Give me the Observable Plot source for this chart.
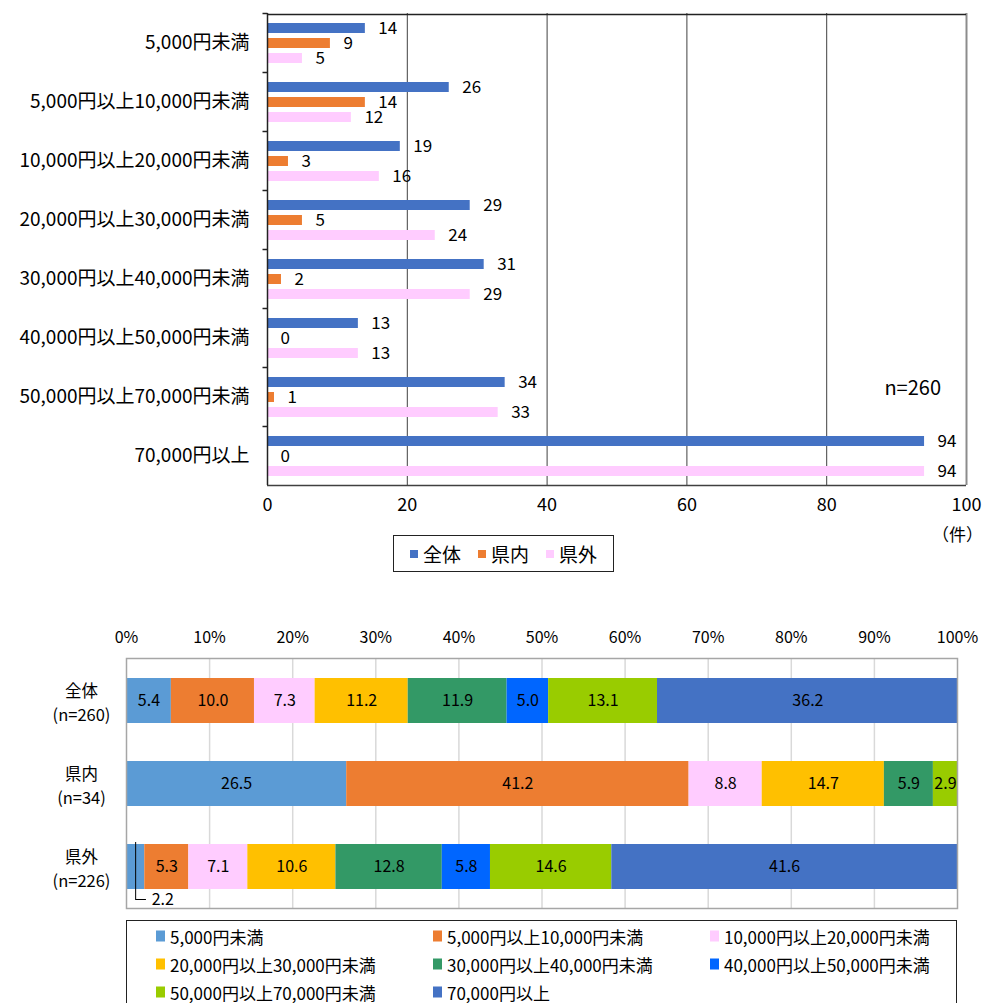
<!DOCTYPE html>
<html><head><meta charset="utf-8">
<script src="https://cdn.jsdelivr.net/npm/d3@7"></script>
<script src="https://cdn.jsdelivr.net/npm/@observablehq/plot@0.6"></script>
<style>
body{margin:0;background:#fff;font-family:'Noto Sans CJK JP','Noto Sans',sans-serif;color:#000;}
#wrap{position:relative;width:983px;height:1003px;overflow:hidden;background:#fff;}
.abs{position:absolute;}
#leg1{left:393px;top:535px;width:221px;height:37px;border:1px solid #222;box-sizing:border-box;display:flex;align-items:center;justify-content:center;gap:17px;font-size:19px;}
#leg1 .it{display:flex;align-items:center;gap:5px;}
#leg1 .mk{width:8px;height:8px;display:inline-block;}
#leg2{left:126px;top:920px;width:831px;height:100px;border:1px solid #222;box-sizing:border-box;font-size:17px;}
#leg2 .it{position:absolute;display:flex;align-items:center;gap:5px;white-space:nowrap;transform:translateY(-50%);}
#leg2 .mk{width:9px;height:11px;display:inline-block;}
#unit{left:932px;top:521px;font-size:17px;white-space:nowrap;}
</style></head><body><div id="wrap"></div>
<script>
// ---- top chart data ----
const categories = ["5,000円未満","5,000円以上10,000円未満","10,000円以上20,000円未満","20,000円以上30,000円未満","30,000円以上40,000円未満","40,000円以上50,000円未満","50,000円以上70,000円未満","70,000円以上"];
const series = ["全体","県内","県外"];
const countAll = [14,26,19,29,31,13,34,94];
const countIn  = [9,14,3,5,2,0,1,0];
const countOut = [5,12,16,24,29,13,33,94];
const seriesColors = ["#4472C4","#ED7D31","#FFCCFF"];
const countTicks = [0,20,40,60,80,100];
const countGrid = [20,40,60,80];
const totalN = "n=260";
const unitLabel = "（件）";

// ---- bottom chart data ----
const rows = ["全体","県内","県外"];
const rowN = ["(n=260)","(n=34)","(n=226)"];
const shareAll = [5.4,10.0,7.3,11.2,11.9,5.0,13.1,36.2];
const shareIn  = [26.5,41.2,8.8,14.7,5.9,0,2.9,0];
const shareOut = [2.2,5.3,7.1,10.6,12.8,5.8,14.6,41.6];
const shareColors = ["#5B9BD5","#ED7D31","#FFCCFF","#FFC000","#339966","#0066FF","#99CC00","#4472C4"];
const pctTicks = [0,10,20,30,40,50,60,70,80,90,100];

const FONT = "'Noto Sans CJK JP','Noto Sans',sans-serif";
const wrap = document.getElementById("wrap");

// ===== Top chart =====
const counts = [countAll, countIn, countOut];
const topData = categories.flatMap((c, i) => series.map((s, j) => ({category: c, series: s, value: counts[j][i]})));
const leftTick = {draw(ctx) { ctx.moveTo(0, 0); ctx.lineTo(-5, 0); }};
const edgeTop = [{s: series[0], c: categories[0]}];
const edgeBottom = [{s: series[2], c: categories[categories.length - 1]}];

const topPlot = Plot.plot({
  width: 983, height: 530,
  marginLeft: 267, marginRight: 17, marginTop: 12, marginBottom: 44,
  style: {fontFamily: FONT, fontSize: "17px", color: "#000", background: "transparent"},
  x: {domain: [0, 100]},
  y: {domain: series, paddingInner: 0.355, paddingOuter: 0.59, axis: null},
  fy: {domain: categories, paddingInner: 0, paddingOuter: 0, label: null},
  color: {domain: series, range: seriesColors},
  marks: [
    Plot.ruleX(countGrid, {stroke: "#404040", strokeWidth: 1}),
    Plot.barX(topData, {x: "value", y: "series", fy: "category", fill: "series"}),
    Plot.text(topData, {x: "value", y: "series", fy: "category", text: d => String(d.value), textAnchor: "start", dx: 13, fill: "#000", fontSize: 17}),
    Plot.ruleX([100], {stroke: "#8c8c8c", strokeWidth: 2}),
    Plot.ruleY(edgeTop, {y: "s", fy: "c", x1: 0, x2: 100, dy: -14.1, stroke: "#222", strokeWidth: 1.5}),
    Plot.ruleY(edgeBottom, {y: "s", fy: "c", x1: 0, x2: 100, dy: 14.1, stroke: "#404040", strokeWidth: 1.5}),
    Plot.ruleX([0], {stroke: "#222", strokeWidth: 1.5}),
    Plot.axisX({anchor: "bottom", ticks: countTicks, tickSize: 0, tickPadding: 13, fill: "#000", label: null, fontSize: 18}),
    Plot.axisFy({anchor: "left", tickSize: 0, tickPadding: 18, label: null, fontSize: 19, fill: "#000"}),
    Plot.dot([0], {frameAnchor: "top-left", symbol: leftTick, stroke: "#222", fill: "none"}),
    Plot.text([{t: totalN, category: categories[6], s: series[0], x: 92.3}], {x: "x", y: "s", fy: "category", text: "t", dy: 6, fontSize: 20, fill: "#000"})
  ]
});
topPlot.classList.add("abs");
topPlot.style.left = "0px"; topPlot.style.top = "0px";
wrap.appendChild(topPlot);

const unit = document.createElement("div");
unit.className = "abs"; unit.id = "unit"; unit.textContent = unitLabel;
wrap.appendChild(unit);

const leg1 = document.createElement("div");
leg1.className = "abs"; leg1.id = "leg1";
series.forEach((s, i) => {
  const it = document.createElement("span"); it.className = "it";
  const mk = document.createElement("span"); mk.className = "mk"; mk.style.background = seriesColors[i];
  const tx = document.createElement("span"); tx.textContent = s;
  it.append(mk, tx); leg1.appendChild(it);
});
wrap.appendChild(leg1);

// ===== Bottom chart =====
const shares = [shareAll, shareIn, shareOut];
const shareData = rows.flatMap((r, i) => categories.map((c, j) => ({row: r, cat: c, value: shares[i][j], idx: j})));
const isLeader = d => d.row === rows[2] && d.idx === 0;
const leadX = shareOut[0] / 2;
const rowLabel = new Map(rows.map((r, i) => [r, r + "\n" + rowN[i]]));

const botPlot = Plot.plot({
  width: 983, height: 300,
  marginLeft: 126, marginRight: 26, marginTop: 48, marginBottom: 2,
  style: {fontFamily: FONT, fontSize: "15px", color: "#000", background: "transparent"},
  x: {domain: [0, 100]},
  y: {domain: rows, paddingInner: 0.46, paddingOuter: 0.227},
  color: {domain: categories, range: shareColors},
  marks: [
    Plot.ruleX(pctTicks.slice(1, -1), {stroke: "#d9d9d9", strokeWidth: 1.5}),
    Plot.barX(shareData, Plot.stackX({x: "value", y: "row", fill: "cat"})),
    Plot.text(shareData, Plot.stackX({x: "value", y: "row", z: "cat", text: d => (d.value > 0 && !isLeader(d)) ? d.value.toFixed(1) : "", fontSize: 16, fill: "#000"})),
    Plot.frame({stroke: "#a6a6a6", strokeWidth: 1.5}),
    Plot.tickX([{x: leadX, row: rows[2]}], {x: "x", y: "row", insetTop: -2, insetBottom: -10, stroke: "#000"}),
    Plot.ruleY([{row: rows[2]}], {y: "row", x1: leadX, x2: leadX + 1.3, dy: 32.5, stroke: "#000"}),
    Plot.text([{row: rows[2], x: leadX, t: shareOut[0].toFixed(1)}], {x: "x", y: "row", text: "t", textAnchor: "start", dx: 16, dy: 33, fontSize: 16, fill: "#000"}),
    Plot.axisX({anchor: "top", ticks: pctTicks, tickFormat: d => d + "%", tickSize: 0, tickPadding: 16, label: null, fontSize: 16, fill: "#000"}),
    Plot.axisY({anchor: "left", tickSize: 0, tickPadding: 45, textAnchor: "middle", tickFormat: d => rowLabel.get(d), lineHeight: 1.45, label: null, fontSize: 16.5, fill: "#000"})
  ]
});
botPlot.classList.add("abs");
botPlot.style.left = "0px"; botPlot.style.top = "610px";
wrap.appendChild(botPlot);

const leg2 = document.createElement("div");
leg2.className = "abs"; leg2.id = "leg2";
const colX = [29, 306, 583], rowY = [15, 43, 71];
categories.forEach((c, i) => {
  const it = document.createElement("span"); it.className = "it";
  it.style.left = colX[i % 3] + "px"; it.style.top = rowY[Math.floor(i / 3)] + "px";
  const mk = document.createElement("span"); mk.className = "mk"; mk.style.background = shareColors[i];
  const tx = document.createElement("span"); tx.textContent = c;
  it.append(mk, tx); leg2.appendChild(it);
});
wrap.appendChild(leg2);
</script></body></html>
